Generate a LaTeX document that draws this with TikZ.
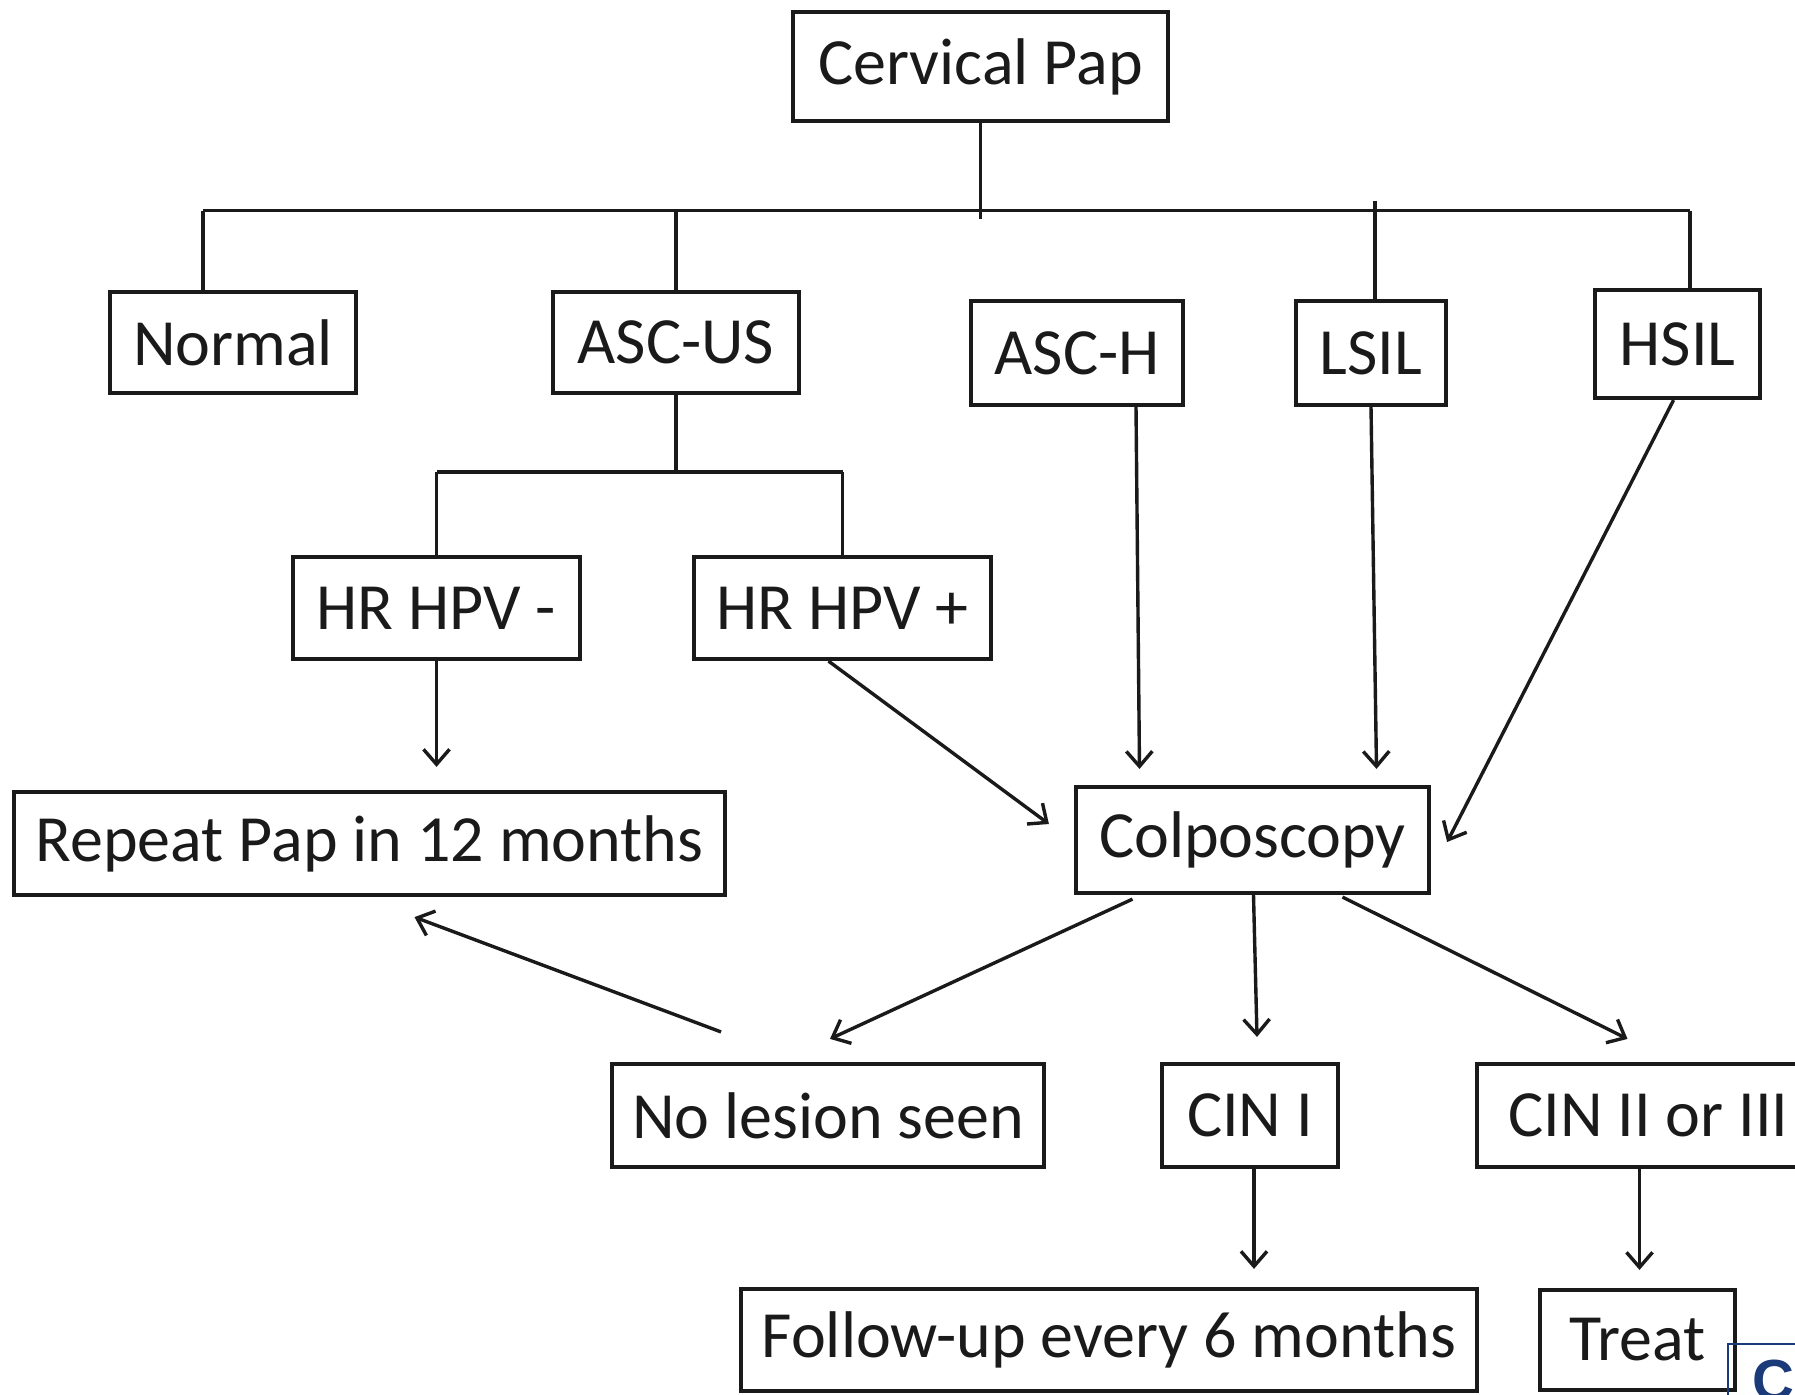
\documentclass[tikz,border=0pt]{standalone}
\usepackage{fontspec}
\setmainfont{Carlito}
\newfontfamily\bluefont{Liberation Sans}
\usetikzlibrary{arrows.meta,calc}
\definecolor{ink}{HTML}{1A1A1A}
\definecolor{navy}{HTML}{1B3A7A}
\begin{document}
\begin{tikzpicture}[x=1pt,y=-1pt,
  box/.style={draw=ink, line width=4.2pt, inner sep=0pt, text=ink,
    font=\fontsize{66}{72}\selectfont},
  conn/.style={draw=ink, line width=3.4pt},
  arr/.style={conn, -{Straight Barb[length=15pt,width=26pt]}}]
\useasboundingbox (0,0) rectangle (1795,1394);
\clip (0,0) rectangle (1795,1394);
\fill[white] (0,0) rectangle (1795,1394);
% nodes
\node[box, minimum width=375pt, minimum height=109pt] (cp)  at (980.5,66.5) {Cervical Pap};
\node[box, minimum width=246pt, minimum height=101pt] (nor) at (233,342.5) {Normal};
\node[box, minimum width=246pt, minimum height=101pt] (asu) at (676,342.5) {ASC-US};
\node[box, minimum width=212pt, minimum height=104pt] (ash) at (1077,353) {ASC-H};
\node[box, minimum width=150pt, minimum height=104pt] (lsil) at (1371,353) {LSIL};
\node[box, minimum width=165pt, minimum height=108pt] (hsil) at (1677.5,344) {HSIL};
\node[box, minimum width=287pt, minimum height=102pt] (hn) at (436.5,608) {HR HPV -};
\node[box, minimum width=297pt, minimum height=102pt] (hp) at (842.5,608) {HR HPV +};
\node[box, minimum width=711pt, minimum height=103pt] (rep) at (369.5,843.5) {Repeat Pap in 12 months};
\node[box, minimum width=353pt, minimum height=106pt] (col) at (1252.5,840) {Colposcopy};
\node[box, minimum width=432pt, minimum height=103pt] (nl) at (828,1115.5) {No lesion seen};
\node[box, minimum width=176pt, minimum height=103pt] (c1) at (1250,1115.5) {CIN I};
\node[box, minimum width=343pt, minimum height=103pt] (c2) at (1648.5,1115.5) {CIN II or III};
\node[box, minimum width=736pt, minimum height=102pt] (fu) at (1109,1340) {Follow-up every 6 months};
\node[box, minimum width=195pt, minimum height=100pt] (tr) at (1637.5,1340) {Treat};
% bus
\coordinate (busL) at (203,210.5);
\coordinate (busR) at (1690,210.5);
\draw[conn] (busL) -- (busR);
\draw[conn] (cp.south) -- ($(cp.south |- busL)+(0,8)$);
\draw[conn] (busL) -- (busL |- nor.north);
\draw[conn] (asu.north |- busL) -- (asu.north);
\draw[conn] ($(ash.north)+(-22,0)$ |- busL) -- ($(ash.north)+(-22,0)$);
\draw[conn] ($(lsil.north |- busL)+(4,-10)$) -- ($(lsil.north)+(4,0)$);
\draw[conn] (busR) -- (busR |- hsil.north);
% sub bus
\coordinate (subL) at (436.5,472);
\coordinate (subR) at (842.5,472);
\draw[conn] (asu.south) -- (asu.south |- subL);
\draw[conn] (subL) -- (subR);
\draw[conn] (subL) -- (hn.north);
\draw[conn] (subR) -- (hp.north);
% arrows
\draw[arr, shorten >=23pt] (hn.south) -- (hn.south |- rep.north);
\draw[arr] ($(hp.south)+(-14,0)$) -- ($(col.west)+(-25,-16)$);
\draw[arr] ($(ash.south)+(59,0)$) -- ($(col.north)+(-113,-16)$);
\draw[arr] (lsil.south) -- ($(col.north)+(124,-16)$);
\draw[arr] ($(hsil.south)+(-4,0)$) -- ($(col.east)+(16,2)$);
\draw[arr] ($(col.south)+(-120,4)$) -- ($(nl.north)+(2,-23)$);
\draw[arr] ($(nl.north)+(-107,-30)$) -- ($(rep.south)+(45,20)$);
\draw[arr] ($(col.south)+(1,0)$) -- ($(c1.north)+(7,-25)$);
\draw[arr] ($(col.south)+(90,2)$) -- ($(c2.north)+(-21,-23)$);
\draw[arr] ($(c1.south)+(4,0)$) -- ($(c1.south |- fu.north)+(4,-18)$);
\draw[arr] ($(c2.south)+(-9,0)$) -- ($(c2.south |- tr.north)+(-9,-18)$);
% partial blue box
\coordinate (bl) at (1728,1344);
\draw[navy, line width=1.8pt] (bl |- 0,1400) -- (bl) -- (1800,1344);
\node[anchor=north west, inner sep=0pt, text=navy, font=\bluefont\bfseries\fontsize{58}{60}\selectfont] (cc) at (1752,1360) {C};
\end{tikzpicture}
\end{document}
